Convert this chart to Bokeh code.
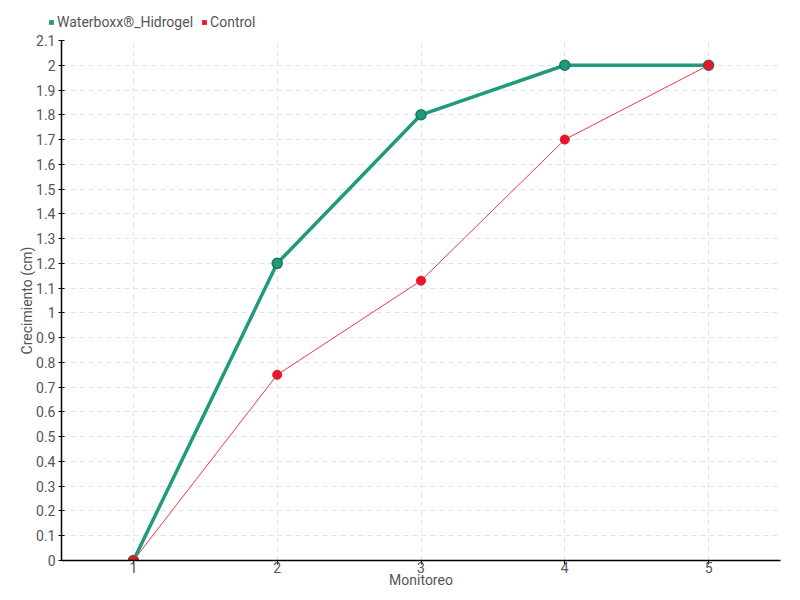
from bokeh.plotting import figure
from bokeh.layouts import column, row
from bokeh.models import FixedTicker, Legend, LegendItem, Range1d
from bokeh.embed import file_html
from bokeh.resources import INLINE

monitoreo = [1, 2, 3, 4, 5]
waterboxx = [0.0, 1.2, 1.8, 2.0, 2.0]
control = [0.0, 0.75, 1.13, 1.7, 2.0]
y_ticks = [0.0, 0.1, 0.2, 0.3, 0.4, 0.5, 0.6, 0.7, 0.8, 0.9, 1.0,
           1.1, 1.2, 1.3, 1.4, 1.5, 1.6, 1.7, 1.8, 1.9, 2.0, 2.1]
y_tick_labels = ["0", "0.1", "0.2", "0.3", "0.4", "0.5", "0.6", "0.7", "0.8", "0.9", "1",
                 "1.1", "1.2", "1.3", "1.4", "1.5", "1.6", "1.7", "1.8", "1.9", "2", "2.1"]
series_names = ["Waterboxx®_Hidrogel", "Control"]

FONT = "Roboto"
TXT = "#555555"
TEAL = "#1f9a7c"
RED = "#e8142a"

# main chart
p = figure(width=792, height=568, output_backend="svg", toolbar_location=None,
           x_range=Range1d(0.5, 5.5), y_range=Range1d(0, 2.1),
           min_border_left=61, min_border_right=12, min_border_bottom=40, min_border_top=8)
p.outline_line_color = None
p.background_fill_color = "white"

p.xaxis.ticker = FixedTicker(ticks=monitoreo)
p.yaxis.ticker = FixedTicker(ticks=y_ticks)
p.yaxis.major_label_overrides = {t: l for t, l in zip(y_ticks, y_tick_labels)}
p.xaxis.axis_label = "Monitoreo"
p.yaxis.axis_label = "Crecimiento (cm)"
for ax in (p.xaxis, p.yaxis):
    ax.axis_line_color = "black"
    ax.axis_line_width = 1.5
    ax.major_tick_line_color = "black"
    ax.minor_tick_line_color = None
    ax.major_label_text_font = FONT
    ax.major_label_text_font_size = "14px"
    ax.major_label_text_color = TXT
    ax.axis_label_text_font = FONT
    ax.axis_label_text_font_size = "14px"
    ax.axis_label_text_font_style = "normal"
    ax.axis_label_text_color = TXT
p.xaxis.major_tick_in = 0
p.xaxis.major_tick_out = 4
p.xaxis.major_label_standoff = -3
p.xaxis.axis_label_standoff = -4
p.yaxis.major_tick_in = 3
p.yaxis.major_tick_out = 3
p.yaxis.major_label_standoff = 3
p.yaxis.axis_label_standoff = -2

for g in (p.xgrid, p.ygrid):
    g.grid_line_color = "#e2e2e2"
    g.grid_line_dash = "5 4"
    g.grid_line_width = 1

p.line(monitoreo, waterboxx, line_color=TEAL, line_width=3.5)
p.scatter(monitoreo, waterboxx, size=10, fill_color=TEAL, line_color="#177a5f", line_width=1.5)
p.line(monitoreo, control, line_color="#f0384c", line_width=1)
p.scatter(monitoreo, control, size=9, fill_color=RED, line_color=RED)

# legend strip above the chart
lf = figure(width=792, height=32, output_backend="svg", toolbar_location=None,
            x_range=Range1d(0, 1), y_range=Range1d(0, 1),
            x_axis_location=None, y_axis_location=None,
            min_border_left=0, min_border_right=0, min_border_top=0, min_border_bottom=0)
lf.outline_line_color = None
lf.xgrid.visible = False
lf.ygrid.visible = False
lg1 = lf.quad(left=[-3], right=[-2], bottom=[-3], top=[-2], fill_color=TEAL, line_color=None)
lg2 = lf.quad(left=[-3], right=[-2], bottom=[-3], top=[-2], fill_color=RED, line_color=None)
legend = Legend(items=[LegendItem(label=series_names[0], renderers=[lg1]),
                       LegendItem(label=series_names[1], renderers=[lg2])],
                orientation="horizontal", location=(48, 2),
                label_text_font=FONT, label_text_font_size="14px", label_text_color=TXT,
                glyph_width=6, glyph_height=6, label_standoff=3, spacing=8,
                padding=4, margin=0, border_line_color=None, background_fill_alpha=0)
lf.add_layout(legend, "center")

layout = column(row(lf), p, spacing=0)
open("out.html", "w").write(file_html(layout, INLINE))
